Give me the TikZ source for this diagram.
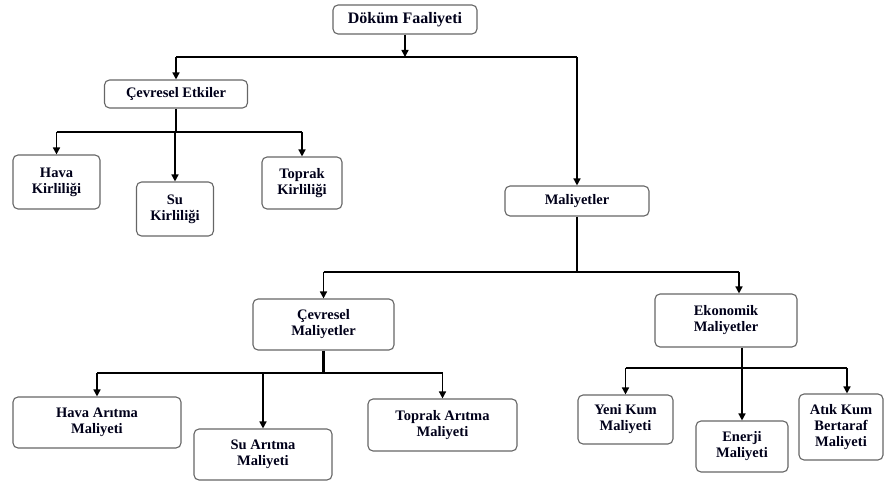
\documentclass[tikz,border=0pt]{standalone}
\usepackage{fontspec}
\setmainfont{Liberation Serif}
\usepackage{tikz}
\usetikzlibrary{arrows.meta}

\tikzset{
  box/.style={draw=black!60, line width=1.1pt, rounded corners=5pt, align=center,
    inner sep=2pt, font=\fontsize{14.5}{16}\selectfont\bfseries, text=black!90!blue},
  bus/.style={line width=2.4pt},
  drop/.style={line width=1.5pt, -{Triangle[width=7pt,length=7pt]}}
}

\begin{document}
\begin{tikzpicture}[x=1pt, y=-1pt]
  \useasboundingbox (0,0) rectangle (884,481);
  % Top node
  \node[box, minimum width=144pt, minimum height=29pt, font=\fontsize{16}{18}\selectfont\bfseries] (dokum) at (405,19.5) {Döküm Faaliyeti};
  % Second level
  \node[box, minimum width=143pt, minimum height=28pt] (cevetk) at (176,94) {Çevresel Etkiler};
  \node[box, minimum width=144pt, minimum height=30pt] (maliyet) at (577,201) {Maliyetler};
  % Pollution boxes
  \node[box, minimum width=87pt, minimum height=54pt] (hava) at (56.5,182) {Hava\\Kirliliği};
  \node[box, minimum width=77pt, minimum height=54pt] (su) at (175,209) {Su\\Kirliliği};
  \node[box, minimum width=80pt, minimum height=52pt] (toprak) at (302,183) {Toprak\\Kirliliği};
  % Cost groups
  \node[box, minimum width=141pt, minimum height=51pt] (cevmal) at (323.5,324.5) {Çevresel\\Maliyetler};
  \node[box, minimum width=142pt, minimum height=53pt] (ekomal) at (726,320.5) {Ekonomik\\Maliyetler};
  % Environmental costs
  \node[box, minimum width=168pt, minimum height=51pt] (havaar) at (97,422.5) {Hava Arıtma\\Maliyeti};
  \node[box, minimum width=138pt, minimum height=51pt] (suar) at (263,454.5) {Su Arıtma\\Maliyeti};
  \node[box, minimum width=149pt, minimum height=52pt] (toprakar) at (442.5,425) {Toprak Arıtma\\Maliyeti};
  % Economic costs
  \node[box, minimum width=95pt, minimum height=49pt] (yeni) at (625.5,419.5) {Yeni Kum\\Maliyeti};
  \node[box, minimum width=92pt, minimum height=51pt] (enerji) at (742,446.5) {Enerji\\Maliyeti};
  \node[box, minimum width=84pt, minimum height=66pt] (atik) at (841,427) {Atık Kum\\Bertaraf\\Maliyeti};

  % Bus rows
  \coordinate (b1) at (0,57);
  \coordinate (b2) at (0,132);
  \coordinate (b3) at (0,272);
  \coordinate (b4) at (0,373);
  \coordinate (b5) at (0,368);

  % Döküm Faaliyeti -> Çevresel Etkiler, Maliyetler
  \draw[drop] (dokum.south) -- (dokum |- b1);
  \draw[bus] (cevetk |- b1) -- (maliyet |- b1);
  \foreach \n in {cevetk,maliyet}
    \draw[drop] (\n |- b1) -- (\n.north);

  % Çevresel Etkiler -> pollution
  \draw[bus] (cevetk.south) -- (cevetk |- b2);
  \draw[bus] (hava |- b2) -- (toprak |- b2);
  \foreach \n in {hava,su,toprak}
    \draw[drop] (\n |- b2) -- (\n.north);

  % Maliyetler -> cost groups
  \draw[bus] (maliyet.south) -- (maliyet |- b3);
  \draw[bus] (cevmal |- b3) -- ([xshift=13pt]ekomal.north |- b3);
  \draw[drop] (cevmal |- b3) -- (cevmal.north);
  \draw[drop] ([xshift=13pt]ekomal.north |- b3) -- ([xshift=13pt]ekomal.north);

  % Çevresel Maliyetler -> treatment costs
  \draw[bus] (cevmal.south) -- (cevmal |- b4);
  \draw[bus] (havaar |- b4) -- (toprakar |- b4);
  \foreach \n in {havaar,suar,toprakar}
    \draw[drop] (\n |- b4) -- (\n.north);

  % Ekonomik Maliyetler -> economic costs
  \draw[bus] ([xshift=16pt]ekomal.south) -- ([xshift=16pt]ekomal.south |- b5);
  \draw[bus] (yeni |- b5) -- ([xshift=6pt]atik.north |- b5);
  \foreach \n in {yeni,enerji}
    \draw[drop] (\n |- b5) -- (\n.north);
  \draw[drop] ([xshift=6pt]atik.north |- b5) -- ([xshift=6pt]atik.north);
\end{tikzpicture}
\end{document}
